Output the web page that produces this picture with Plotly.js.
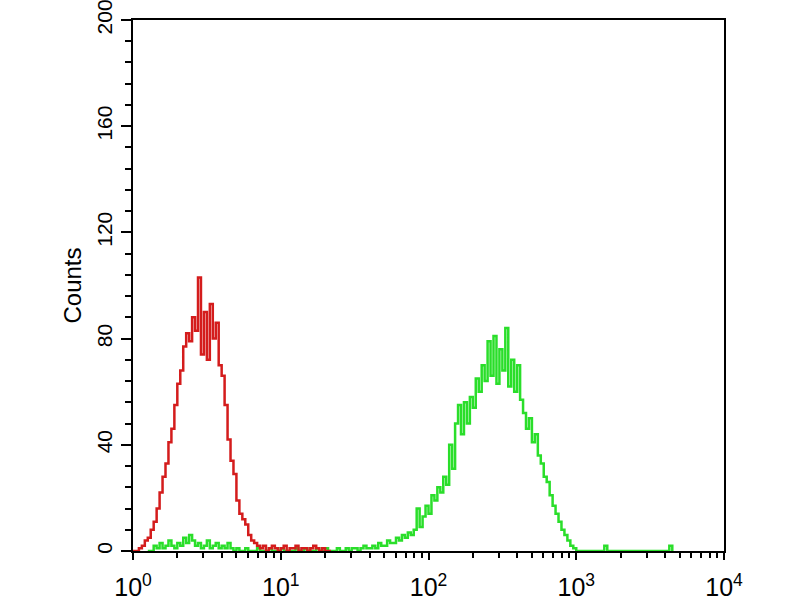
<!DOCTYPE html>
<html>
<head>
<meta charset="utf-8">
<script src="https://cdn.plot.ly/plotly-3.0.1.min.js"></script>
<style>html,body{margin:0;padding:0;background:#fff;}#chart{width:800px;height:600px;}</style>
</head>
<body>
<div id="chart"></div>
<script>
// Channel positions as log10 of fluorescence intensity
const redLogX = [0.00,0.02,0.04,0.06,0.08,0.10,0.12,0.14,0.16,0.18,0.20,0.22,0.24,0.26,0.28,0.30,0.32,0.34,0.36,0.38,
  0.40,0.42,0.44,0.46,0.48,0.50,0.52,0.54,0.56,0.58,0.60,0.62,0.64,0.66,0.68,0.70,0.72,0.74,0.76,0.78,
  0.80,0.82,0.84,0.86,0.88,0.90,0.92,0.94,0.96,0.98,1.00,1.02,1.04,1.06,1.08,1.10,1.12,1.14,1.16,1.18,
  1.20,1.22,1.24,1.26,1.28,1.30,1.32,1.34];
const redCounts = [0,0,1,2,4,5,8,11,16,22,28,33,41,46,55,63,68,77,82,79,
  88,83,103,74,90,72,93,80,86,70,66,55,42,34,29,19,14,12,10,6,
  4,3,2,1,2,0,1,2,1,0,1,2,0,1,1,2,0,1,1,0,
  1,2,1,0,1,0,0,0];

const greenLogX = [0.10,0.12,0.14,0.16,0.18,0.20,0.22,0.24,0.26,0.28,0.30,0.32,0.34,0.36,0.38,0.40,0.42,0.44,0.46,0.48,
  0.50,0.52,0.54,0.56,0.58,0.60,0.62,0.64,0.66,0.68,0.70,0.72,0.74,0.76,0.78,0.80,0.82,0.84,0.86,0.88,
  0.90,0.92,0.94,0.96,0.98,1.00,1.02,1.04,1.06,1.08,1.10,1.12,1.14,1.16,1.18,1.20,1.22,1.24,1.26,1.28,
  1.30,1.32,1.34,1.36,1.38,1.40,1.42,1.44,1.46,1.48,1.50,1.52,1.54,1.56,1.58,1.60,1.62,1.64,1.66,1.68,
  1.70,1.72,1.74,1.76,1.78,1.80,1.82,1.84,1.86,1.88,1.90,1.92,1.94,1.96,1.98,2.00,2.02,2.04,2.06,2.08,
  2.10,2.12,2.14,2.16,2.18,2.20,2.22,2.24,2.26,2.28,2.30,2.32,2.34,2.36,2.38,2.40,2.42,2.44,2.46,2.48,
  2.50,2.52,2.54,2.56,2.58,2.60,2.62,2.64,2.66,2.68,2.70,2.72,2.74,2.76,2.78,2.80,2.82,2.84,2.86,2.88,
  2.90,2.92,2.94,2.96,2.98,3.00,3.02,3.17,3.19,3.21,3.61,3.63,3.65];
const greenCounts = [0,0,2,1,3,1,2,4,2,1,3,2,5,3,6,4,2,3,1,2,
  4,1,2,3,1,2,1,3,1,0,1,0,0,1,0,0,0,1,0,0,
  0,1,0,0,0,1,0,0,0,0,1,0,0,1,0,0,0,1,0,0,
  1,0,0,0,1,0,0,1,0,1,1,0,1,2,1,1,2,1,3,2,
  2,4,3,3,5,4,6,5,7,6,8,16,9,13,17,14,21,19,24,22,
  28,25,40,31,48,55,44,56,48,58,54,65,60,70,64,79,66,81,63,76,
  68,84,62,72,60,70,57,52,46,50,41,44,36,33,28,26,21,17,14,11,
  8,6,4,2,1,0,0,0,2,0,0,2,0];

const xTickVals = [1, 10, 100, 1000, 10000];
const xTickText = ['10<sup>0</sup>', '10<sup>1</sup>', '10<sup>2</sup>', '10<sup>3</sup>', '10<sup>4</sup>'];
const xMinorVals = [2,3,4,5,6,7,8,9,20,30,40,50,60,70,80,90,200,300,400,500,600,700,800,900,2000,3000,4000,5000,6000,7000,8000,9000];
const yTickVals = [0, 40, 80, 120, 160, 200];
const yTitle = 'Counts';

const toLin = arr => arr.map(e => Math.pow(10, e));

const traces = [
  {
    x: toLin(greenLogX), y: greenCounts, type: 'scatter', mode: 'lines',
    line: {color: '#2ade2a', width: 2.5, shape: 'hv'}, hoverinfo: 'skip'
  },
  {
    x: toLin(redLogX), y: redCounts, type: 'scatter', mode: 'lines',
    line: {color: '#d41c1c', width: 2.5, shape: 'hv'}, hoverinfo: 'skip'
  }
];

const font = {family: 'Liberation Sans, Arial, sans-serif', color: '#000'};

const layout = {
  width: 800, height: 600,
  margin: {l: 133, r: 76, t: 20, b: 49},
  paper_bgcolor: '#fff', plot_bgcolor: '#fff',
  showlegend: false,
  xaxis: {
    type: 'log', range: [0, 4],
    tickmode: 'array', tickvals: xTickVals, ticktext: xTickText,
    ticks: 'outside', ticklen: 7, tickwidth: 2, tickcolor: '#000',
    minor: {tickmode: 'array', tickvals: xMinorVals, ticks: 'outside', ticklen: 5, tickwidth: 2, tickcolor: '#000', showgrid: false},
    showline: true, mirror: true, linecolor: '#000', linewidth: 2,
    showgrid: false, zeroline: false,
    ticklabelstandoff: 6,
    tickfont: Object.assign({size: 25}, font)
  },
  yaxis: {
    range: [0, 200],
    tickmode: 'array', tickvals: yTickVals,
    tickangle: -90,
    ticks: 'outside', ticklen: 10, tickwidth: 2, tickcolor: '#000',
    minor: {dtick: 8, ticks: 'outside', ticklen: 6, tickwidth: 2, tickcolor: '#000', showgrid: false},
    showline: true, mirror: true, linecolor: '#000', linewidth: 2,
    showgrid: false, zeroline: false,
    ticklabelstandoff: 1,
    ticklabeloverflow: 'allow',
    tickfont: Object.assign({size: 21}, font),
    title: {text: yTitle, font: Object.assign({size: 24}, font), standoff: 4}
  }
};

Plotly.newPlot('chart', traces, layout, {staticPlot: true, displayModeBar: false});
</script>
</body>
</html>
